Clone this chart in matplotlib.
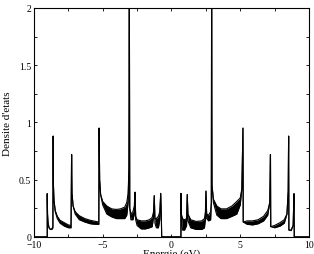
import matplotlib
matplotlib.use('Agg')
import matplotlib.pyplot as plt
from matplotlib.ticker import MultipleLocator

# energie (eV), bas et haut de la bande oscillante de la densite d'etats
energy = [-10, -9.03, -9.03, -9.01, -8.97, -8.9, -8.8, -8.7, -8.62, -8.6,
          -8.58, -8.54, -8.45, -8.3, -8.1, -7.8, -7.5, -7.3, -7.26, -7.23,
          -7.15, -7.0, -6.7, -6.3, -5.9, -5.5, -5.28, -5.26, -5.22, -5.15,
          -5.0, -4.7, -4.35, -4.0, -3.7, -3.4, -3.25, -3.15, -3.09, -3.06,
          -3.03, -2.95, -2.8, -2.7, -2.65, -2.6, -2.5, -2.2, -1.9, -1.6,
          -1.4, -1.3, -1.25, -1.2, -1.1, -0.95, -0.85, -0.78, -0.73, -0.71,
          0.69, 0.69, 0.72, 0.8, 0.95, 1.1, 1.15, 1.2, 1.4, 1.8,
          2.2, 2.4, 2.47, 2.51, 2.56, 2.7, 2.85, 2.9, 2.92, 2.95,
          3.05, 3.3, 3.6, 4.0, 4.4, 4.75, 5.0, 5.12, 5.2, 5.22,
          5.5, 5.9, 6.3, 6.7, 7.0, 7.15, 7.2, 7.22, 7.5, 7.9,
          8.2, 8.4, 8.49, 8.52, 8.54, 8.7, 8.85, 8.91, 8.93, 10]

dos_low = [0, 0, 0.377, 0.2, 0.12, 0.08, 0.065, 0.065, 0.08, 0.88,
           0.45, 0.32, 0.22, 0.16, 0.12, 0.095, 0.08, 0.08, 0.72, 0.38,
           0.27, 0.2, 0.15, 0.13, 0.115, 0.11, 0.11, 0.95, 0.5, 0.37,
           0.28, 0.2, 0.175, 0.16, 0.16, 0.16, 0.19, 0.3, 0.6, 2.1,
           0.25, 0.15, 0.15, 0.2, 0.39, 0.15, 0.1, 0.07, 0.07, 0.08,
           0.09, 0.18, 0.36, 0.12, 0.08, 0.08, 0.15, 0.38, 0.15, 0,
           0, 0.38, 0.2, 0.06, 0.06, 0.1, 0.37, 0.14, 0.08, 0.065,
           0.065, 0.08, 0.16, 0.4, 0.16, 0.14, 0.15, 0.3, 2.1, 0.45,
           0.3, 0.19, 0.16, 0.16, 0.18, 0.2, 0.28, 0.42, 0.95, 0.13,
           0.11, 0.105, 0.115, 0.14, 0.19, 0.3, 0.72, 0.09, 0.08, 0.095,
           0.12, 0.2, 0.4, 0.88, 0.06, 0.055, 0.1, 0.377, 0, 0]

dos_high = [0, 0, 0.377, 0.2, 0.12, 0.08, 0.065, 0.07, 0.09, 0.88,
            0.45, 0.32, 0.23, 0.18, 0.145, 0.125, 0.105, 0.1, 0.72, 0.38,
            0.27, 0.22, 0.185, 0.16, 0.145, 0.135, 0.13, 0.95, 0.5, 0.37,
            0.31, 0.27, 0.245, 0.24, 0.245, 0.26, 0.3, 0.38, 0.6, 2.1,
            0.25, 0.2, 0.22, 0.27, 0.39, 0.18, 0.15, 0.14, 0.14, 0.15,
            0.17, 0.22, 0.36, 0.16, 0.16, 0.18, 0.22, 0.38, 0.15, 0,
            0, 0.38, 0.2, 0.16, 0.15, 0.16, 0.37, 0.2, 0.15, 0.135,
            0.14, 0.16, 0.22, 0.4, 0.2, 0.19, 0.22, 0.3, 2.1, 0.45,
            0.33, 0.27, 0.245, 0.245, 0.27, 0.31, 0.34, 0.42, 0.95, 0.13,
            0.14, 0.14, 0.15, 0.18, 0.23, 0.3, 0.72, 0.09, 0.1, 0.125,
            0.15, 0.2, 0.4, 0.88, 0.06, 0.06, 0.1, 0.377, 0, 0]

plt.rcParams['font.family'] = 'Liberation Serif'
plt.rcParams['font.size'] = 7

fig = plt.figure(figsize=(3.14, 2.55), dpi=100)
ax = fig.add_axes([0.108, 0.067, 0.876, 0.898])

ax.fill_between(energy, dos_low, dos_high, color='black', lw=0)
ax.plot(energy, dos_low, color='black', lw=0.8)
ax.plot(energy, dos_high, color='black', lw=0.8)

ax.set_xlim(-10, 10)
ax.set_ylim(0, 2)
ax.xaxis.set_major_locator(MultipleLocator(5))
ax.xaxis.set_minor_locator(MultipleLocator(2.5))
ax.yaxis.set_major_locator(MultipleLocator(0.5))
ax.yaxis.set_minor_locator(MultipleLocator(0.25))
ax.set_yticks([0, 0.5, 1, 1.5, 2])
ax.set_yticklabels(['0', '0.5', '1', '1.5', '2'])
ax.tick_params(which='both', direction='in', top=True, right=True,
               length=2.5, width=0.6, pad=2)
for s in ax.spines.values():
    s.set_linewidth(0.8)

ax.set_xlabel('Energie (eV)', fontsize=8, labelpad=0)
ax.set_ylabel("Densite d'etats", fontsize=8, labelpad=5)

fig.savefig('out.png', dpi=100)
